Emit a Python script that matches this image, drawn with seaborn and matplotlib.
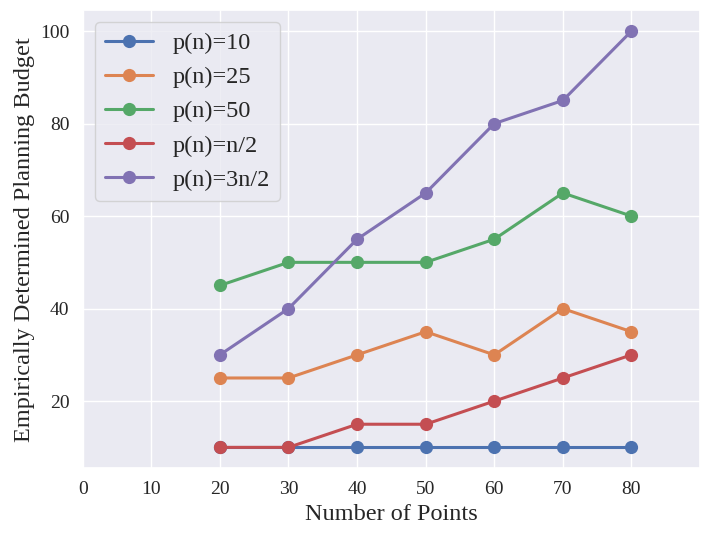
import matplotlib
matplotlib.use("Agg")
import matplotlib.pyplot as plt
import seaborn as sns
import pandas as pd

points = [20, 30, 40, 50, 60, 70, 80]
p10 = [10, 10, 10, 10, 10, 10, 10]
p25 = [25, 25, 30, 35, 30, 40, 35]
p50 = [45, 50, 50, 50, 55, 65, 60]
p_half = [10, 10, 15, 15, 20, 25, 30]
p_3half = [30, 40, 55, 65, 80, 85, 100]
labels = ["p(n)=10", "p(n)=25", "p(n)=50", "p(n)=n/2", "p(n)=3n/2"]
x_ticks = [0, 10, 20, 30, 40, 50, 60, 70, 80]

series = [p10, p25, p50, p_half, p_3half]
rows = []
for lab, vals in zip(labels, series):
    for x, v in zip(points, vals):
        rows.append({"Number of Points": x, "Budget": v, "Policy": lab})
df = pd.DataFrame(rows)

sns.set_theme(style="darkgrid")
plt.rcParams["font.family"] = ["Liberation Serif", "DejaVu Serif"]

fig, ax = plt.subplots(figsize=(7.1, 5.4), dpi=100)
fig.subplots_adjust(left=0.1165, right=0.986, top=0.981, bottom=0.133)

sns.lineplot(data=df, x="Number of Points", y="Budget", hue="Policy",
             hue_order=labels, marker="o", markersize=9.5, linewidth=2.2,
             markeredgewidth=0, ax=ax)

ax.set_xlim(0, 90)
ax.set_xticks(x_ticks)
ax.set_xlabel("Number of Points", fontsize=17.5)
ax.set_ylabel("Empirically Determined Planning Budget", fontsize=17.5)
ax.tick_params(labelsize=14)
leg = ax.legend(loc="upper left", fontsize=17.5)

fig.savefig("out.png", dpi=100)
